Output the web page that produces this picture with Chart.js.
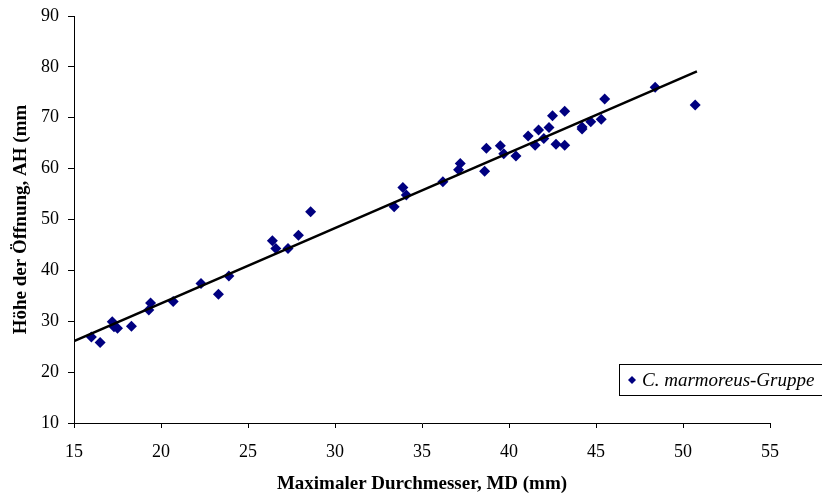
<!DOCTYPE html>
<html>
<head>
<meta charset="utf-8">
<script src="https://cdn.jsdelivr.net/npm/chart.js@4"></script>
<style>
  html, body { margin: 0; padding: 0; background: #fff; }
  #wrap { position: relative; width: 822px; height: 495px; }
</style>
</head>
<body>
<div id="wrap"><canvas id="myChart" width="822" height="495"></canvas></div>
<script>
// Messwerte: maximaler Durchmesser (MD) und Höhe der Öffnung (AH), in mm
const md = [16.0, 16.5, 17.2, 17.3, 17.5, 18.3, 19.3, 19.4, 20.7, 22.3, 23.3, 23.9,
            26.4, 26.6, 27.3, 27.9, 28.6, 33.4, 33.9, 34.1, 36.2, 37.2, 37.1, 38.6,
            38.7, 39.5, 39.7, 40.4, 41.1, 41.5, 41.7, 42.0, 42.3, 42.5, 42.7, 43.2,
            43.2, 44.2, 44.2, 44.7, 45.3, 45.5, 48.4, 50.7];
const ah = [26.9, 25.8, 29.9, 28.9, 28.6, 29.0, 32.2, 33.6, 33.9, 37.4, 35.3, 38.9,
            45.8, 44.3, 44.3, 46.9, 51.5, 52.5, 56.3, 54.8, 57.4, 61.0, 59.8, 59.5,
            64.0, 64.5, 62.9, 62.5, 66.4, 64.6, 67.6, 65.9, 68.1, 70.4, 64.8, 64.6,
            71.3, 68.2, 67.8, 69.2, 69.7, 73.7, 76.0, 72.5];

// Trendlinie (Anfangs- und Endpunkt)
const trendMD = [15, 50.8];
const trendAH = [26.1, 79.1];

const xTicks = [15, 20, 25, 30, 35, 40, 45, 50, 55];
const yTicks = [10, 20, 30, 40, 50, 60, 70, 80, 90];

const serif = "'Liberation Serif', 'Times New Roman', serif";

// Legende als Kasten unten rechts im Diagramm
const legendBox = {
  id: 'legendBox',
  afterDraw(chart) {
    const ctx = chart.ctx;
    const label = chart.data.datasets[0].label;
    ctx.save();
    ctx.fillStyle = '#fff';
    ctx.fillRect(620, 364, 210, 31);
    ctx.strokeStyle = '#000';
    ctx.lineWidth = 1;
    ctx.strokeRect(619.5, 364.5, 210, 31);
    // Raute
    ctx.fillStyle = '#000080';
    ctx.beginPath();
    ctx.moveTo(632, 376);
    ctx.lineTo(636, 380);
    ctx.lineTo(632, 384);
    ctx.lineTo(628, 380);
    ctx.closePath();
    ctx.fill();
    ctx.fillStyle = '#000';
    ctx.font = 'italic 19px ' + serif;
    ctx.textBaseline = 'middle';
    ctx.fillText(label, 642, 381);
    ctx.restore();
  }
};

const ctx = document.getElementById('myChart').getContext('2d');
const myChart = new Chart(ctx, {
  type: 'scatter',
  data: {
    datasets: [{
      label: 'C. marmoreus-Gruppe',
      data: md.map((v, i) => ({ x: v, y: ah[i] })),
      pointStyle: 'rectRot',
      pointRadius: 5.5,
      backgroundColor: '#000080',
      borderColor: '#000080',
      borderWidth: 0,
      order: 2
    }, {
      type: 'line',
      label: 'Trend',
      data: trendMD.map((v, i) => ({ x: v, y: trendAH[i] })),
      borderColor: '#000',
      borderWidth: 2.5,
      pointRadius: 0,
      fill: false,
      order: 1
    }]
  },
  options: {
    responsive: false,
    animation: false,
    layout: { padding: { top: 16, right: 52, left: 0, bottom: 0 } },
    plugins: {
      legend: { display: false },
      tooltip: { enabled: false }
    },
    scales: {
      x: {
        type: 'linear',
        min: 15,
        max: 55,
        afterBuildTicks: s => { s.ticks = xTicks.map(v => ({ value: v })); },
        afterFit: s => { s.height = 72; },
        grid: { drawOnChartArea: false, tickLength: 5, tickColor: '#000' },
        border: { color: '#000', width: 1 },
        ticks: { color: '#000', font: { family: serif, size: 18 }, padding: 13, maxRotation: 0 },
        title: {
          display: true,
          text: 'Maximaler Durchmesser, MD (mm)',
          color: '#000',
          font: { family: serif, size: 19, weight: 'bold' },
          padding: { top: 4, bottom: 0 }
        }
      },
      y: {
        type: 'linear',
        min: 10,
        max: 90,
        afterBuildTicks: s => { s.ticks = yTicks.map(v => ({ value: v })); },
        afterFit: s => {
          s.width = 74;
          s.paddingTop = 0;
          s.paddingBottom = 0;
        },
        grid: { drawOnChartArea: false, tickLength: 6, tickColor: '#000' },
        border: { color: '#000', width: 1 },
        ticks: { color: '#000', font: { family: serif, size: 18 }, padding: 9 },
        title: {
          display: true,
          text: 'Höhe der Öffnung, AH (mm',
          color: '#000',
          font: { family: serif, size: 19, weight: 'bold' },
          padding: { top: 10, bottom: 0 }
        }
      }
    }
  },
  plugins: [legendBox]
});
</script>
</body>
</html>
